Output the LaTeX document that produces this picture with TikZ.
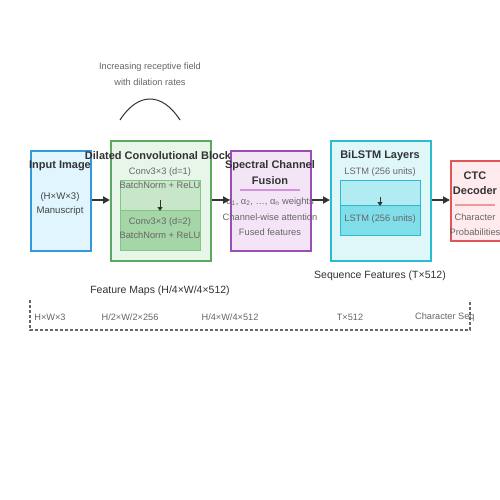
\documentclass[tikz,border=0pt]{standalone}
\usepackage{fontspec}
\setmainfont{Liberation Sans}
\usetikzlibrary{arrows.meta}
\definecolor{txt}{HTML}{333333}
\definecolor{sub}{HTML}{666666}
\definecolor{mid}{HTML}{444444}
\definecolor{inB}{HTML}{3498DB}\definecolor{inF}{HTML}{E1F5FE}
\definecolor{gB}{HTML}{5BA85E}\definecolor{gF}{HTML}{E8F5E9}
\definecolor{g1}{HTML}{C8E6C9}\definecolor{g2}{HTML}{A5D6A7}\definecolor{gL}{HTML}{81C784}
\definecolor{pB}{HTML}{9B4DB8}\definecolor{pF}{HTML}{F3E5F5}\definecolor{pL}{HTML}{CE93D8}
\definecolor{cB}{HTML}{2BBBCF}\definecolor{cF}{HTML}{E0F7FA}
\definecolor{c1}{HTML}{B2EBF2}\definecolor{c2}{HTML}{80DEEA}
\definecolor{rB}{HTML}{E05555}\definecolor{rF}{HTML}{FFEBEE}\definecolor{rL}{HTML}{EF9A9A}
\tikzset{
  box/.style={draw, line width=1.8pt, inner sep=0pt, anchor=north west},
  inner/.style={draw, line width=1pt, inner sep=0pt, anchor=north west},
  ttl/.style={font=\bfseries\fontsize{11}{13}\selectfont, text=txt, inner sep=0pt},
  sm/.style={font=\fontsize{9.3}{11}\selectfont, text=sub, inner sep=0pt},
  tiny/.style={font=\fontsize{9.2}{11}\selectfont, text=sub, inner sep=0pt},
  lbl/.style={font=\fontsize{10.5}{12}\selectfont, text=txt, inner sep=0pt},
  arr/.style={draw=txt, line width=1.8pt, -{Triangle[length=7pt,width=7pt]}},
  sarr/.style={draw=txt, line width=1pt, -{Triangle[length=4pt,width=5pt]}},
}
\begin{document}
\begin{tikzpicture}[x=1pt,y=-1pt]
\useasboundingbox (0,0) rectangle (500,500);
\fill[white] (0,0) rectangle (500,500);
% top annotation
\node[tiny] (ann1) at (150,67) {Increasing receptive field};
\node[tiny] (ann2) at (150,82) {with dilation rates};
\draw[txt, line width=1pt] (120,120) .. controls (138,92) and (162,92) .. (180,120);
% Input
\node[box, draw=inB, fill=inF, minimum width=60pt, minimum height=100pt] (inp) at (30,150) {};
\node[ttl] (inpT) at (60,166) {Input Image};
\node[sm, text=mid, font=\fontsize{9.6}{11}\selectfont] (inp1) at (60,197) {(H×W×3)};
\node[sm, text=mid, font=\fontsize{9.6}{11}\selectfont] (inp2) at (60,211) {Manuscript};
% Dilated conv
\node[box, draw=gB, fill=gF, minimum width=100pt, minimum height=120pt] (dc) at (110,140) {};
\node[ttl] (dcT) at (158,156) {Dilated Convolutional Block};
\node[sm] (dc0) at (160,172) {Conv3×3 (d=1)};
\node[inner, draw=gL, fill=g1, minimum width=80pt, minimum height=40pt] (dc1) at (120,180) {};
\node[inner, draw=gL, fill=g2, minimum width=80pt, minimum height=40pt] (dc2) at (120,210) {};
\node[sm] (dc1t) at (160,185) {BatchNorm + ReLU};
\node[sm] (dc2a) at (160,222) {Conv3×3 (d=2)};
\node[sm] (dc2b) at (160,235) {BatchNorm + ReLU};
\coordinate (dcA) at (160,200);
\coordinate (dcB) at (160,211);
\draw[sarr] (dcA) -- (dcB);
% Spectral
\node[box, draw=pB, fill=pF, minimum width=80pt, minimum height=100pt] (sp) at (230,150) {};
\node[ttl] (spT1) at (270,166) {Spectral Channel};
\node[ttl] (spT2) at (270,181) {Fusion};
\draw[pL, line width=1.3pt] (240,190) -- (300,190);
\node[sm] (sp1) at (270,202) {α\textsubscript{1}, α\textsubscript{2}, …, α\textsubscript{n} weights};
\node[sm] (sp2) at (270,217) {Channel-wise attention};
\node[sm] (sp3) at (270,232) {Fused features};
% BiLSTM
\node[box, draw=cB, fill=cF, minimum width=100pt, minimum height=120pt] (bl) at (330,140) {};
\node[ttl] (blT) at (380,156) {BiLSTM Layers};
\node[sm] (bl0) at (380,172) {LSTM (256 units)};
\node[inner, draw=cB, fill=c1, minimum width=80pt, minimum height=25pt] (bl1) at (340,180) {};
\node[inner, draw=cB, fill=c2, minimum width=80pt, minimum height=30pt] (bl2) at (340,205) {};
\node[sm] (bl2t) at (380,219) {LSTM (256 units)};
\coordinate (blA) at (380,197);
\coordinate (blB) at (380,206);
\draw[sarr] (blA) -- (blB);
% CTC
\node[box, draw=rB, fill=rF, minimum width=50pt, minimum height=80pt] (ctc) at (450,160) {};
\node[ttl] (ctcT1) at (475,176) {CTC};
\node[ttl] (ctcT2) at (475,191) {Decoder};
\draw[rL, line width=1.3pt] (455,205) -- (495,205);
\node[sm] (ctc1) at (475,217) {Character};
\node[sm] (ctc2) at (475,232) {Probabilities};
% main arrows
\draw[arr] (inp.east |- 0,200) -- (dc.west |- 0,200);
\draw[arr] (dc.east |- 0,200) -- (sp.west |- 0,200);
\draw[arr] (sp.east |- 0,200) -- (bl.west |- 0,200);
\draw[arr] (bl.east |- 0,200) -- (ctc.west |- 0,200);
% labels
\node[lbl] (fm) at (160,291) {Feature Maps (H/4×W/4×512)};
\node[lbl] (sf) at (380,276) {Sequence Features (T×512)};
% dashed bottom
\draw[sub, line width=1.3pt, dash pattern=on 3pt off 2pt] (30,300) -- (30,330) -- (470,330) -- (470,300);
\node[tiny] (d1) at (50,317) {H×W×3};
\node[tiny] (d2) at (130,317) {H/2×W/2×256};
\node[tiny] (d3) at (230,317) {H/4×W/4×512};
\node[tiny] (d4) at (350,317) {T×512};
\node[tiny, anchor=west] (d5) at (415,317) {Character Seq};
\end{tikzpicture}
\end{document}
